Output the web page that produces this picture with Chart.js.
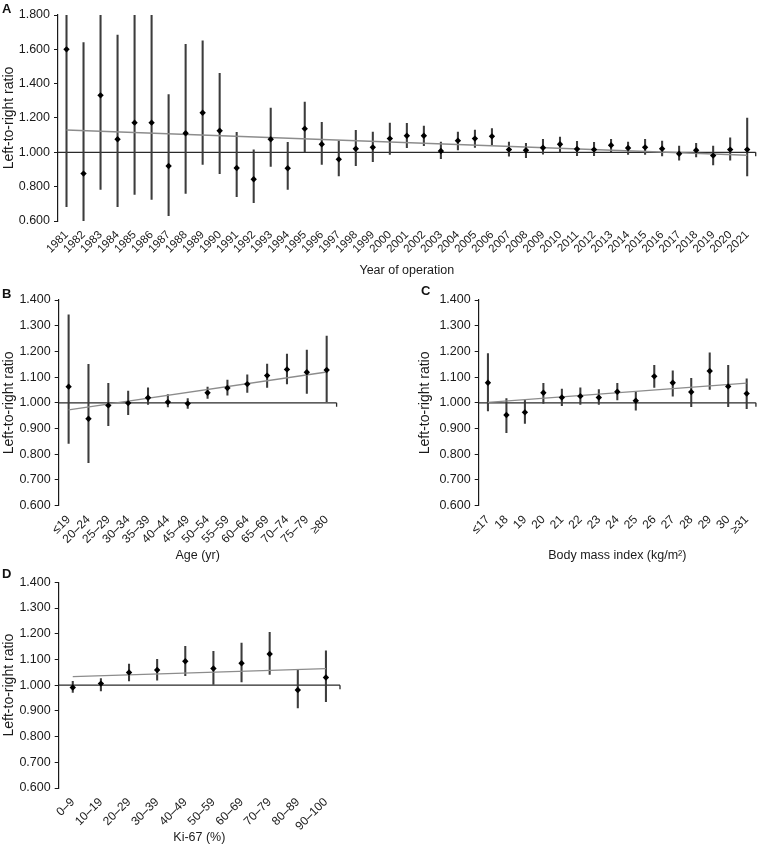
<!DOCTYPE html>
<html>
<head>
<meta charset="utf-8">
<script src="https://cdn.jsdelivr.net/npm/chart.js@4/dist/chart.umd.min.js"></script>
<style>
  body { margin: 0; background: #fff; font-family: "Liberation Sans", Arial, sans-serif; }
  #pagina { position: relative; width: 764px; height: 847px; overflow: hidden; }
  .box { position: absolute; }
  .tag { position: absolute; font-weight: bold; font-size: 13px; color: #111; }
</style>
</head>
<body>
<div id="pagina">
  <div class="box" style="left:0;top:0;width:764px;height:280px"><canvas id="grafA"></canvas></div>
  <div class="box" style="left:0;top:280px;width:344px;height:285px"><canvas id="grafB"></canvas></div>
  <div class="box" style="left:416px;top:280px;width:348px;height:285px"><canvas id="grafC"></canvas></div>
  <div class="box" style="left:0;top:570px;width:344px;height:277px"><canvas id="grafD"></canvas></div>
  <div class="tag" style="left:2px;top:1px">A</div>
  <div class="tag" style="left:2px;top:286px">B</div>
  <div class="tag" style="left:421px;top:283px">C</div>
  <div class="tag" style="left:2px;top:566px">D</div>
</div>
<script>
// ------------- dati -------------
const anni = ['1981','1982','1983','1984','1985','1986','1987','1988','1989','1990','1991','1992','1993','1994',
  '1995','1996','1997','1998','1999','2000','2001','2002','2003','2004','2005','2006','2007','2008','2009','2010',
  '2011','2012','2013','2014','2015','2016','2017','2018','2019','2020','2021'];
const stimaA = [1.600,0.876,1.332,1.076,1.173,1.173,0.920,1.111,1.231,1.126,0.909,0.843,1.076,0.907,1.138,1.047,
  0.959,1.021,1.029,1.080,1.097,1.097,1.008,1.068,1.080,1.093,1.016,1.012,1.027,1.047,1.019,1.016,1.041,1.025,
  1.029,1.021,0.992,1.012,0.981,1.016,1.016];
const bassoA = [0.683,0.600,0.784,0.683,0.755,0.726,0.631,0.761,0.930,0.876,0.742,0.707,0.918,0.784,1.002,0.930,
  0.862,0.922,0.946,0.988,1.027,1.039,0.963,1.014,1.029,1.045,0.977,0.969,0.990,1.002,0.981,0.981,1.002,0.988,
  0.988,0.979,0.955,0.973,0.926,0.955,0.862];
const altoA = [1.800,1.639,1.800,1.683,1.800,1.800,1.336,1.629,1.649,1.460,1.117,1.014,1.258,1.058,1.293,1.175,
  1.066,1.128,1.118,1.171,1.169,1.153,1.060,1.118,1.130,1.138,1.060,1.052,1.076,1.089,1.064,1.058,1.076,1.060,
  1.076,1.066,1.037,1.052,1.037,1.085,1.200];
const trendA = [1.130, 0.983];

const eta = ['≤19','20–24','25–29','30–34','35–39','40–44','45–49','50–54','55–59','60–64','65–69','70–74','75–79','≥80'];
const stimaB = [1.063,0.938,0.990,0.999,1.020,1.003,0.997,1.039,1.058,1.073,1.106,1.130,1.119,1.128];
const bassoB = [0.842,0.767,0.911,0.954,0.994,0.984,0.978,1.017,1.030,1.041,1.060,1.074,1.037,1.005];
const altoB = [1.342,1.150,1.076,1.046,1.058,1.032,1.017,1.061,1.089,1.109,1.151,1.190,1.205,1.260];
const trendB = [0.973, 1.120];

const bmi = ['≤17','18','19','20','21','22','23','24','25','26','27','28','29','30','≥31'];
const stimaC = [1.078,0.953,0.963,1.039,1.021,1.026,1.021,1.043,1.008,1.103,1.078,1.042,1.124,1.064,1.036];
const bassoC = [0.969,0.884,0.920,0.998,0.989,0.994,0.994,1.011,0.972,1.060,1.026,0.985,1.052,0.985,0.977];
const altoC = [1.192,1.017,1.011,1.076,1.054,1.058,1.052,1.076,1.043,1.146,1.125,1.095,1.195,1.146,1.093];
const trendC = [1.002, 1.077];

const ki67 = ['0–9','10–19','20–29','30–39','40–49','50–59','60–69','70–79','80–89','90–100'];
const stimaD = [0.991,1.006,1.049,1.059,1.093,1.065,1.085,1.121,0.981,1.030];
const bassoD = [0.972,0.978,1.016,1.019,1.037,1.003,1.013,1.042,0.911,0.936];
const altoD = [1.015,1.026,1.082,1.100,1.151,1.132,1.164,1.205,1.059,1.133];
const trendD = [1.033, 1.064];
// ------------- dati -------------

Chart.defaults.font.family = '"Liberation Sans", Arial, sans-serif';
Chart.defaults.color = '#1a1a1a';

// linea di riferimento a 1.000 con tacca finale
const lineaUno = {
  id: 'lineaUno',
  beforeDatasetsDraw(chart) {
    const { ctx, chartArea, scales } = chart;
    const y = scales.y.getPixelForValue(1);
    ctx.save();
    ctx.strokeStyle = '#2a2a2a';
    ctx.lineWidth = 1.3;
    ctx.beginPath();
    ctx.moveTo(chartArea.left, y);
    ctx.lineTo(chartArea.right, y);
    ctx.moveTo(chartArea.right, y);
    ctx.lineTo(chartArea.right, y + 4);
    ctx.stroke();
    ctx.restore();
  }
};

function creaGrafico(DOM, etichette, stima, basso, alto, trend, cfg) {
  const ctx = document.getElementById(DOM).getContext('2d');
  const n = etichette.length;
  const lineaTrend = etichette.map((e, i) => i === 0 ? trend[0] : (i === n - 1 ? trend[1] : null));
  return new Chart(ctx, {
    type: 'bar',
    data: {
      labels: etichette,
      datasets: [
        {
          type: 'line',
          data: stima,
          showLine: false,
          pointStyle: 'rectRot',
          pointRadius: 3.2,
          pointBackgroundColor: '#000',
          pointBorderWidth: 0,
          order: 0
        },
        {
          type: 'line',
          data: lineaTrend,
          spanGaps: true,
          borderColor: '#8c8c8c',
          borderWidth: 1.3,
          pointRadius: 0,
          order: 1
        },
        {
          type: 'bar',
          data: basso.map((b, i) => [b, alto[i]]),
          backgroundColor: '#3c3c3c',
          borderWidth: 0,
          barThickness: 1.4,
          order: 2
        }
      ]
    },
    options: {
      responsive: true,
      maintainAspectRatio: false,
      animation: false,
      layout: { padding: { top: cfg.top, right: cfg.right, left: 0, bottom: 0 } },
      plugins: { legend: { display: false }, tooltip: { enabled: false } },
      scales: {
        x: {
          offset: true,
          grid: { display: false, drawTicks: false },
          border: { display: false },
          ticks: {
            autoSkip: false, minRotation: 45, maxRotation: 45, padding: 7,
            font: { size: cfg.tickX }, color: '#1a1a1a'
          },
          title: { display: true, text: cfg.titoloX, font: { size: 12.5 }, color: '#1a1a1a', padding: { top: 2, bottom: 2 } },
          afterFit: (s) => { s.height = cfg.altezzaX; }
        },
        y: {
          min: cfg.min, max: cfg.max,
          grid: { drawOnChartArea: false, drawTicks: true, tickLength: 4, color: '#1a1a1a' },
          border: { display: true, color: '#1a1a1a', width: 1.2 },
          ticks: {
            stepSize: cfg.passo, padding: 4, font: { size: 12.5 }, color: '#1a1a1a',
            callback: (v) => v.toFixed(3)
          },
          title: { display: true, text: 'Left-to-right ratio', font: { size: 14 }, color: '#1a1a1a', padding: { top: 1, bottom: 0 } },
          afterFit: (s) => { s.width = cfg.larghezzaY; }
        }
      }
    },
    plugins: [lineaUno]
  });
}

creaGrafico('grafA', anni, stimaA, bassoA, altoA, trendA,
  { top: 15, right: 2, min: 0.6, max: 1.8, passo: 0.2, tickX: 11.5, titoloX: 'Year of operation', altezzaX: 59, larghezzaY: 58 });
creaGrafico('grafB', eta, stimaB, bassoB, altoB, trendB,
  { top: 20, right: 3, min: 0.6, max: 1.4, passo: 0.1, tickX: 12, titoloX: 'Age (yr)', altezzaX: 59.3, larghezzaY: 58.7 });
creaGrafico('grafC', bmi, stimaC, bassoC, altoC, trendC,
  { top: 20, right: 1.3, min: 0.6, max: 1.4, passo: 0.1, tickX: 12, titoloX: 'Body mass index (kg/m²)', altezzaX: 59.3, larghezzaY: 62.7 });
creaGrafico('grafD', ki67, stimaD, bassoD, altoD, trendD,
  { top: 12.3, right: 3, min: 0.6, max: 1.4, passo: 0.1, tickX: 12, titoloX: 'Ki-67 (%)', altezzaX: 59, larghezzaY: 58.7 });
</script>
</body>
</html>
